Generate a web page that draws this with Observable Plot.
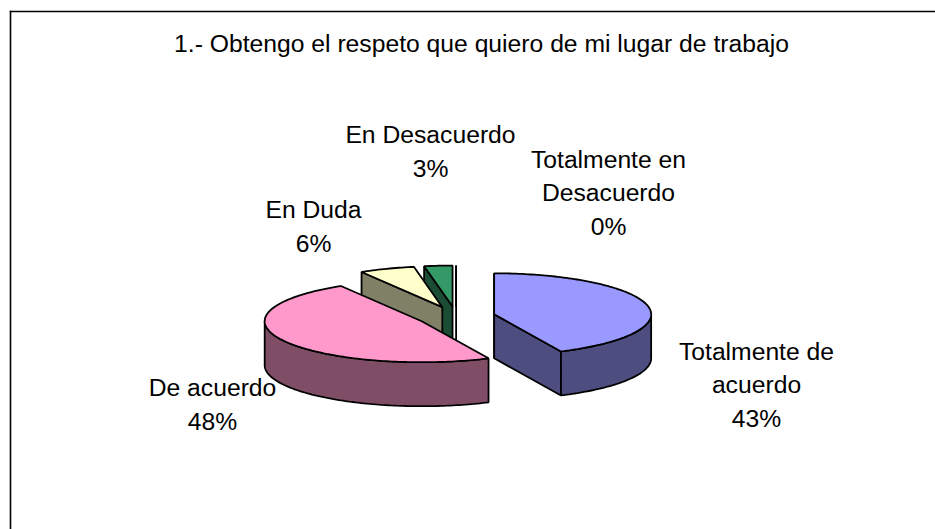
<!DOCTYPE html>
<html><head><meta charset="utf-8">
<script src="https://cdn.jsdelivr.net/npm/d3@7"></script>
<script src="https://cdn.jsdelivr.net/npm/@observablehq/plot@0.6"></script>
<style>html,body{margin:0;padding:0;background:#fff}svg{display:block}</style>
</head><body><div id="chart"></div>
<script>
const title = "1.- Obtengo el respeto que quiero de mi lugar de trabajo";
const categories = ["Totalmente de\nacuerdo", "De acuerdo", "En Duda", "En Desacuerdo", "Totalmente en\nDesacuerdo"];
const shares = [43, 48.4, 5.7, 2.9, 0];
const topColors = ["#9999ff", "#ff99cc", "#ffffcc", "#339966", "#660066"];
const sideColors = ["#4d4d80", "#804d66", "#808066", "#1a4d33", "#330033"];

// layout of the tilted pie, in page pixels
const pie = {cx: 455.6, cy: 316, rx: 157, ry: 41, depth: 44, explodeX: 39, explodeY: 10};
const labelX = [756, 212, 313, 430, 608];
const labelY = [426, 429, 251, 176, 234];

const T = Math.PI * 2;
const total = d3.sum(shares);
let cum = 0;
const slices = shares.map((v, i) => {
  const a0 = cum / total * T; cum += v; const a1 = cum / total * T;
  const mid = (a0 + a1) / 2;
  return {i, v, a0, a1, cx: pie.cx + pie.explodeX * Math.sin(mid), cy: pie.cy - pie.explodeY * Math.cos(mid)};
});
const at = (s, a, drop = 0) => ({x: s.cx + pie.rx * Math.sin(a), y: s.cy - pie.ry * Math.cos(a) + drop});
const centre = (s, drop = 0) => ({x: s.cx, y: s.cy + drop});
const sweep = (a0, a1) => { const n = Math.max(1, Math.ceil((a1 - a0) / 0.02)); return d3.range(n + 1).map(k => a0 + (a1 - a0) * k / n); };

const face = (pts, fill) => Plot.line(pts, {x: "x", y: "y", fill, stroke: "#000", strokeWidth: 1.8, curve: "linear-closed", strokeLinejoin: "miter"});

function sliceMarks(s) {
  const out = [], side = sideColors[s.i], top = topColors[s.i];
  const radial = a => [at(s, a), centre(s), centre(s, pie.depth), at(s, a, pie.depth)];
  if (Math.sin(s.a0) < 1e-9) out.push(face(radial(s.a0), side));
  if (Math.sin(s.a1) > 1e-9) out.push(face(radial(s.a1), side));
  const w0 = Math.max(s.a0, T / 4), w1 = Math.min(s.a1, T * 3 / 4);
  if (w1 > w0) {
    const as = sweep(w0, w1);
    out.push(face([...as.map(a => at(s, a)), ...as.slice().reverse().map(a => at(s, a, pie.depth))], side));
  }
  out.push(face([centre(s), ...sweep(s.a0, s.a1).map(a => at(s, a))], top));
  return out;
}

const order = [4, 3, 2, 0, 1];
const labels = slices.map(s => ({
  text: `${categories[s.i]}\n${d3.format(".0f")(s.v)}%`, x: labelX[s.i], y: labelY[s.i]
}));

const chart = Plot.plot({
  width: 935, height: 529,
  marginLeft: 10, marginTop: 11, marginRight: 0, marginBottom: 0,
  x: {domain: [10, 935], axis: null},
  y: {domain: [529, 11], axis: null},
  style: {fontFamily: "Arial, 'Liberation Sans', sans-serif", background: "#fff"},
  marks: [
    Plot.frame({anchor: "top", stroke: "#000", strokeWidth: 1.4}),
    Plot.frame({anchor: "left", stroke: "#000", strokeWidth: 1.6}),
    ...order.flatMap(i => sliceMarks(slices[i])),
    Plot.text(labels, {x: "x", y: "y", text: "text", fontSize: 24.7, lineHeight: 1.35, lineAnchor: "bottom", textAnchor: "middle", fill: "#000"}),
    Plot.text([title], {x: () => 481, y: () => 51, text: d => d, fontSize: 24.7, lineAnchor: "bottom", textAnchor: "middle", fill: "#000"})
  ]
});
document.getElementById("chart").append(chart);
</script></body></html>
